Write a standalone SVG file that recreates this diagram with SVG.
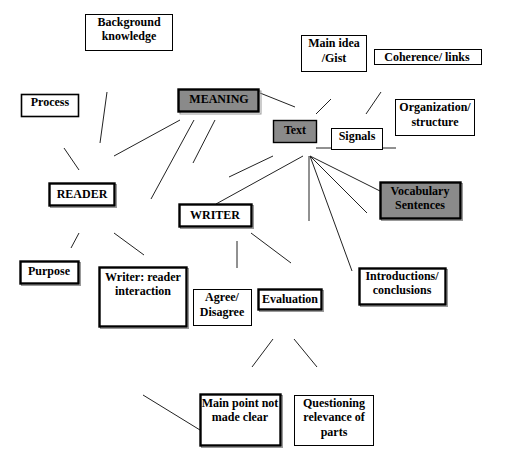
<svg xmlns="http://www.w3.org/2000/svg" width="518" height="468" viewBox="0 0 518 468">
<style>
text{font-weight:bold;font-size:12px;fill:#000;text-anchor:middle}
.thin{fill:#fff;stroke:#000;stroke-width:1}
.mid{fill:#fff;stroke:#000;stroke-width:1.6}
.thick{fill:#fff;stroke:#000;stroke-width:2.4}
.gray{fill:#8a8a8a;stroke:#000;stroke-width:1.4}
.graythick{fill:#8a8a8a;stroke:#000;stroke-width:2.4}
.sh{fill:none;stroke:#999;stroke-width:1}
#connectors line{stroke:#222;stroke-width:1}
</style>
<rect width="518" height="468" fill="#fff"/>
<g id="connectors">
<line x1="107" y1="92" x2="100" y2="143"/>
<line x1="64" y1="148" x2="79" y2="170"/>
<line x1="180" y1="120" x2="114" y2="156"/>
<line x1="194" y1="120" x2="151" y2="199"/>
<line x1="215" y1="120" x2="193" y2="163"/>
<line x1="260" y1="93" x2="295" y2="107"/>
<line x1="316" y1="114" x2="331" y2="99"/>
<line x1="366" y1="114" x2="381" y2="92"/>
<line x1="316" y1="148" x2="396" y2="148"/>
<line x1="273" y1="156" x2="229" y2="177"/>
<line x1="303" y1="156" x2="216" y2="204"/>
<line x1="309" y1="156" x2="309" y2="221"/>
<line x1="310" y1="156" x2="380" y2="191"/>
<line x1="310" y1="156" x2="367" y2="213"/>
<line x1="310" y1="156" x2="352" y2="271"/>
<line x1="79" y1="233" x2="71" y2="248"/>
<line x1="114" y1="233" x2="144" y2="255"/>
<line x1="237" y1="241" x2="237" y2="268"/>
<line x1="251" y1="233" x2="291" y2="263"/>
<line x1="273" y1="339" x2="252" y2="367"/>
<line x1="294" y1="339" x2="317" y2="367"/>
<line x1="143" y1="395" x2="200" y2="430"/>
</g>
<g font-family="'Liberation Serif', 'DejaVu Serif', serif">
<g id="background">
<rect class="thin" x="85.5" y="14.5" width="87" height="36"/>
<text x="129" y="26">Background</text>
<text x="129" y="40">knowledge</text>
</g>
<g id="process">
<rect class="mid" x="21.5" y="94.5" width="57" height="22"/>
<text x="50" y="106">Process</text>
</g>
<g id="meaning">
<rect class="sh" x="180" y="91" width="81" height="23"/>
<rect class="graythick" x="178.5" y="89.5" width="80" height="22"/>
<text x="219" y="103">MEANING</text>
</g>
<g id="text">
<rect class="gray" x="273.5" y="120.5" width="43" height="22"/>
<text x="295" y="134">Text</text>
</g>
<g id="mainidea">
<rect class="thin" x="301.5" y="35.5" width="65" height="36"/>
<text x="334" y="47">Main idea</text>
<text x="334" y="62">/Gist</text>
</g>
<g id="coherence">
<rect class="thin" x="374.5" y="49.5" width="107" height="15"/>
<text x="427" y="61">Coherence/ links</text>
</g>
<g id="organization">
<rect class="thin" x="395.5" y="99.5" width="79" height="36"/>
<text x="435" y="111">Organization/</text>
<text x="435" y="126">structure</text>
</g>
<g id="signals">
<rect class="thin" x="331.5" y="128.5" width="51" height="21"/>
<text x="357" y="140">Signals</text>
</g>
<g id="vocabulary">
<rect class="sh" x="381.5" y="183.5" width="81" height="37"/>
<rect class="graythick" x="380.5" y="182.5" width="80" height="36"/>
<text x="420" y="195">Vocabulary</text>
<text x="420" y="209">Sentences</text>
</g>
<g id="introductions">
<rect class="sh" x="360.5" y="269.5" width="87" height="37"/>
<rect class="thick" x="359.5" y="268.5" width="86" height="36"/>
<text x="402" y="280">Introductions/</text>
<text x="402" y="294">conclusions</text>
</g>
<g id="reader">
<rect class="sh" x="50.5" y="184.5" width="66" height="23"/>
<rect class="thick" x="49.5" y="183.5" width="65" height="22"/>
<text x="82" y="198">READER</text>
</g>
<g id="writer">
<rect class="sh" x="180.5" y="205.5" width="73" height="23"/>
<rect class="thick" x="179.5" y="204.5" width="72" height="22"/>
<text x="215" y="219">WRITER</text>
</g>
<g id="purpose">
<rect class="sh" x="21.5" y="262.5" width="59" height="23"/>
<rect class="thick" x="20.5" y="261.5" width="58" height="22"/>
<text x="49" y="275">Purpose</text>
</g>
<g id="interaction">
<rect class="sh" x="100.5" y="268.5" width="88" height="60"/>
<rect class="thick" x="99.5" y="267.5" width="87" height="59"/>
<text x="143" y="281">Writer: reader</text>
<text x="143" y="295">interaction</text>
</g>
<g id="agree">
<rect class="thin" x="193.5" y="289.5" width="58" height="36"/>
<text x="222" y="301">Agree/</text>
<text x="222" y="316">Disagree</text>
</g>
<g id="evaluation">
<rect class="sh" x="259.5" y="290.5" width="64" height="21"/>
<rect class="thick" x="258.5" y="289.5" width="63" height="20"/>
<text x="290" y="303">Evaluation</text>
</g>
<g id="mainpoint">
<rect class="sh" x="201.5" y="395.5" width="81" height="52"/>
<rect class="thick" x="200.5" y="394.5" width="80" height="51"/>
<text x="240" y="407">Main point not</text>
<text x="240" y="421">made clear</text>
</g>
<g id="questioning">
<rect class="thin" x="294.5" y="395.5" width="79" height="50"/>
<text x="334" y="407">Questioning</text>
<text x="334" y="421">relevance of</text>
<text x="334" y="436">parts</text>
</g>
</g>
</svg>
